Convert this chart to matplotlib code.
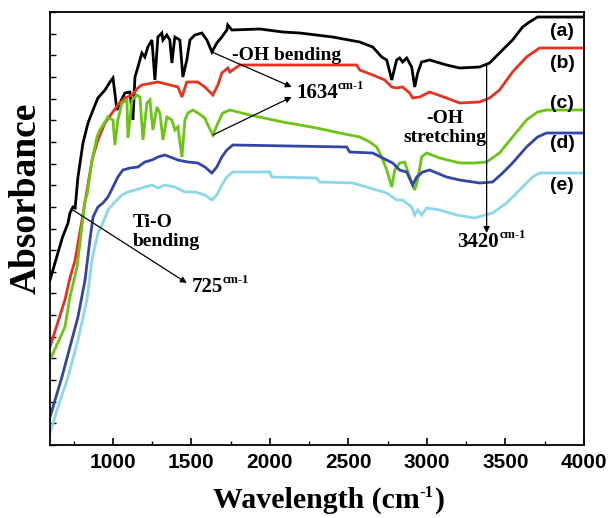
import numpy as np
import matplotlib
matplotlib.use('Agg')
import matplotlib.pyplot as plt
from matplotlib.ticker import MultipleLocator

# wavenumber (cm-1) / absorbance (a.u.)
wn_a = [600, 680, 715, 727, 746, 760, 778, 810, 842, 874, 905, 950, 982, 1001, 1013, 1026, 1045, 1077,
        1109, 1128, 1141, 1160, 1185, 1204, 1223, 1249, 1268, 1287, 1312, 1319, 1344, 1363, 1376, 1395,
        1427, 1446, 1471, 1491, 1522, 1567, 1599, 1631, 1662, 1694, 1726, 1732, 1758, 1936, 2082, 2190,
        2400, 2572, 2655, 2712, 2744, 2776, 2807, 2826, 2845, 2871, 2903, 2922, 2941, 2966, 3017, 3125,
        3208, 3335, 3399, 3462, 3545, 3609, 3653, 3704, 4000]
ab_a = [1.65, 2.08, 2.22, 2.32, 2.38, 2.37, 2.68, 3.02, 3.22, 3.35, 3.47, 3.55, 3.63, 3.67, 3.52, 3.35, 3.42, 3.52,
        3.53, 3.25, 3.68, 3.78, 3.92, 3.88, 3.98, 4.05, 3.65, 4.08, 4.12, 4.05, 4.10, 4.05, 3.82, 4.08,
        4.05, 3.68, 3.85, 4.05, 4.10, 4.12, 4.05, 3.93, 4.02, 4.08, 4.15, 4.20, 4.15, 4.16, 4.13, 4.12,
        4.08, 4.03, 3.98, 3.88, 3.85, 3.65, 3.85, 3.87, 3.83, 3.87, 3.78, 3.58, 3.72, 3.83, 3.85, 3.80,
        3.77, 3.78, 3.82, 3.92, 4.05, 4.18, 4.23, 4.28, 4.28]

wn_b = [600, 695, 727, 760, 778, 804, 836, 868, 905, 950, 995, 1032, 1077, 1122, 1160, 1185, 1287, 1414,
        1440, 1471, 1541, 1586, 1637, 1669, 1694, 1732, 1745, 1809, 2553, 2572, 2655, 2731, 2776, 2807,
        2845, 2890, 2909, 2954, 3017, 3125, 3208, 3335, 3399, 3462, 3545, 3634, 3717, 4000]
ab_b = [0.98, 1.45, 1.67, 1.85, 2.02, 2.25, 2.55, 2.85, 3.05, 3.22, 3.32, 3.40, 3.47, 3.50, 3.57, 3.60, 3.63, 3.58,
        3.48, 3.63, 3.63, 3.58, 3.50, 3.60, 3.72, 3.77, 3.73, 3.80, 3.80, 3.75, 3.70, 3.65, 3.58, 3.57,
        3.58, 3.52, 3.47, 3.48, 3.53, 3.47, 3.42, 3.43, 3.47, 3.55, 3.73, 3.88, 3.97, 3.97]

wn_c = [600, 695, 727, 772, 791, 810, 823, 836, 868, 899, 918, 969, 1001, 1013, 1032, 1058, 1090, 1096,
        1122, 1153, 1173, 1192, 1217, 1236, 1255, 1281, 1300, 1319, 1344, 1376, 1395, 1414, 1440, 1459,
        1478, 1510, 1541, 1586, 1599, 1637, 1669, 1700, 1745, 1872, 2082, 2298, 2445, 2572, 2636, 2680,
        2712, 2744, 2776, 2795, 2826, 2858, 2890, 2922, 2941, 2966, 2998, 3081, 3208, 3303, 3380, 3462,
        3545, 3634, 3704, 3761, 4000]
ab_c = [0.85, 1.18, 1.48, 1.78, 2.02, 2.28, 2.45, 2.50, 2.85, 3.08, 3.15, 3.28, 3.25, 3.00, 3.25, 3.42, 3.45, 3.07,
        3.45, 3.50, 3.48, 3.05, 3.42, 3.45, 3.15, 3.38, 3.32, 3.05, 3.28, 3.25, 3.15, 3.18, 2.88, 3.25,
        3.32, 3.35, 3.32, 3.27, 3.22, 3.10, 3.22, 3.32, 3.35, 3.30, 3.23, 3.17, 3.12, 3.08, 3.03, 2.98,
        2.88, 2.75, 2.58, 2.75, 2.82, 2.83, 2.68, 2.55, 2.65, 2.88, 2.92, 2.87, 2.82, 2.82, 2.83, 2.92,
        3.08, 3.25, 3.33, 3.35, 3.35]

wn_d = [600, 676, 727, 778, 823, 854, 874, 905, 937, 969, 1001, 1032, 1064, 1109, 1160, 1204, 1249, 1287,
        1332, 1382, 1414, 1478, 1541, 1586, 1631, 1662, 1694, 1726, 1764, 2489, 2508, 2655, 2718, 2782,
        2826, 2871, 2909, 2935, 2973, 3017, 3125, 3208, 3335, 3418, 3482, 3545, 3634, 3704, 3761, 4000]
ab_d = [0.28, 0.68, 0.98, 1.28, 1.65, 2.05, 2.28, 2.38, 2.42, 2.48, 2.58, 2.68, 2.75, 2.77, 2.78, 2.83, 2.85, 2.88,
        2.90, 2.87, 2.85, 2.83, 2.82, 2.78, 2.72, 2.78, 2.88, 2.95, 3.00, 2.98, 2.93, 2.92, 2.87, 2.82,
        2.75, 2.73, 2.60, 2.68, 2.73, 2.75, 2.68, 2.65, 2.62, 2.63, 2.72, 2.82, 2.98, 3.08, 3.12, 3.12]

wn_e = [600, 651, 715, 778, 835, 867, 905, 937, 969, 1013, 1058, 1096, 1141, 1204, 1249, 1287, 1332, 1395,
        1459, 1522, 1586, 1631, 1662, 1694, 1726, 1764, 2000, 2012, 2298, 2317, 2527, 2636, 2744, 2807,
        2845, 2903, 2922, 2941, 2966, 2998, 3081, 3189, 3303, 3418, 3507, 3590, 3672, 3717, 4000]
ab_e = [0.12, 0.38, 0.68, 1.05, 1.45, 1.85, 2.12, 2.22, 2.35, 2.43, 2.50, 2.53, 2.55, 2.58, 2.60, 2.57, 2.60, 2.58,
        2.53, 2.53, 2.50, 2.45, 2.50, 2.60, 2.68, 2.73, 2.73, 2.68, 2.67, 2.63, 2.62, 2.57, 2.52, 2.45,
        2.45, 2.38, 2.30, 2.35, 2.30, 2.37, 2.35, 2.30, 2.27, 2.32, 2.42, 2.55, 2.68, 2.72, 2.72]

labels = ['(a)', '(b)', '(c)', '(d)', '(e)']
label_y = [4.13, 3.82, 3.42, 3.02, 2.60]
colors = ['#000000', '#e8321e', '#6cc414', '#3346a6', '#8cd8ea']

fig = plt.figure(figsize=(6.16, 5.18), dpi=100)
ax = fig.add_axes([50 / 616, 1 - 445 / 518, 534 / 616, 433 / 518])

series = [(wn_a, ab_a), (wn_b, ab_b), (wn_c, ab_c), (wn_d, ab_d), (wn_e, ab_e)]
for (x, y), c in zip(series, colors):
    ax.plot(x, y, color=c, lw=2.0, solid_joinstyle='miter')

ax.set_xlim(600, 4000)
ax.set_ylim(0, 4.33)
ax.xaxis.set_major_locator(MultipleLocator(500))
ax.xaxis.set_minor_locator(MultipleLocator(250))
ax.set_yticks(np.linspace(0, 4.33, 21))
ax.set_yticklabels([])
ax.tick_params(axis='x', which='major', direction='in', length=5, width=1.2, pad=6)
ax.tick_params(axis='x', which='minor', direction='in', length=3, width=1.0)
ax.tick_params(axis='y', direction='in', length=4, width=1.0)
for lab in ax.get_xticklabels():
    lab.set_fontfamily('Liberation Sans')
    lab.set_fontweight('bold')
    lab.set_fontsize(15)
for s in ax.spines.values():
    s.set_linewidth(1.3)

serif = dict(family='Liberation Serif', weight='bold')

# x label built from pieces so the superscript keeps a short hyphen
xl = fig.text(213 / 616, 10 / 518, 'Wavelength (cm', fontsize=21.5, ha='left', va='baseline', **serif)
xs = ax.annotate('-1', xy=(1.0, 0.78), xycoords=xl, fontsize=12, ha='left', va='center', **serif)
ax.annotate(')', xy=(1.0, 0.0), xycoords=(xs, xl), fontsize=21.5, ha='left', va='bottom', **serif)

ax.set_ylabel('Absorbance', fontsize=27, **serif)
ax.yaxis.set_label_coords(-0.012, 0.57)

for lab, ly in zip(labels, label_y):
    ax.text(3860, ly, lab, family='Liberation Sans', weight='bold', fontsize=14, ha='center', va='center')

arrow = dict(arrowstyle='-|>', color='k', lw=0.9, mutation_scale=9, shrinkA=0, shrinkB=0)

ax.text(2105, 3.90, '-OH bending', fontsize=14, ha='center', va='center', **serif)
ax.annotate('', xy=(2139, 3.58), xytext=(1631, 3.93), arrowprops=arrow)
ax.annotate('', xy=(2139, 3.48), xytext=(1637, 3.10), arrowprops=arrow)
t1 = ax.text(2168, 3.52, '1634', fontsize=15, ha='left', va='center', **serif)
ax.annotate('cm-1', xy=(1.0, 0.85), xycoords=t1, fontsize=9, ha='left', va='center', **serif)

ax.text(3113, 3.17, '-OH\nstretching', fontsize=14, ha='center', va='center', linespacing=1.15, **serif)
ax.annotate('', xy=(3380, 2.12), xytext=(3380, 3.80), arrowprops=arrow)
t2 = ax.text(3195, 2.03, '3420', fontsize=15, ha='left', va='center', **serif)
ax.annotate('cm-1', xy=(1.0, 0.85), xycoords=t2, fontsize=9, ha='left', va='center', **serif)

ax.text(1128, 2.13, 'Ti-O\nbending', fontsize=14, ha='left', va='center', linespacing=1.15, **serif)
ax.annotate('', xy=(1471, 1.62), xytext=(746, 2.35), arrowprops=arrow)
t3 = ax.text(1503, 1.58, '725', fontsize=15, ha='left', va='center', **serif)
ax.annotate('cm-1', xy=(1.0, 0.85), xycoords=t3, fontsize=9, ha='left', va='center', **serif)

fig.savefig('out.png', dpi=100)
